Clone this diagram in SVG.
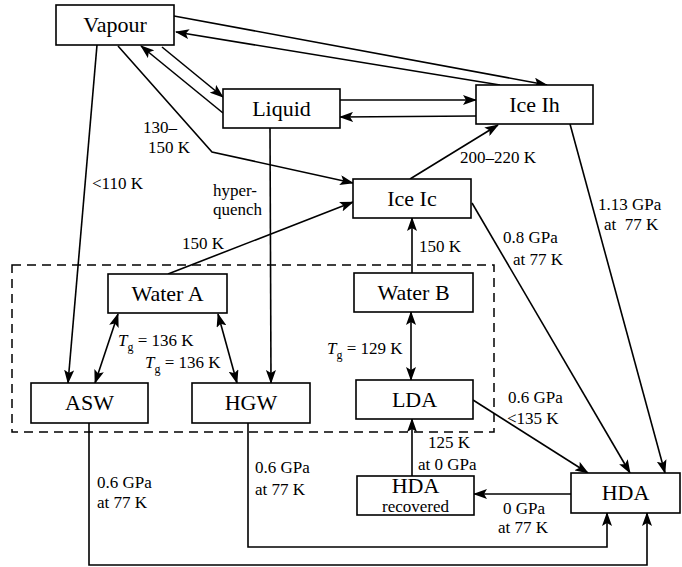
<svg xmlns="http://www.w3.org/2000/svg" width="682" height="567" viewBox="0 0 682 567">
<defs>
<marker id="ah" markerUnits="userSpaceOnUse" markerWidth="14" markerHeight="10" refX="13" refY="5" orient="auto-start-reverse" viewBox="0 0 14 10">
<path d="M0,0 L14,5 L0,10 L3,5 z" fill="#000"/>
</marker>
<style>
.box{fill:#fff;stroke:#000;stroke-width:1.6}
.nl{font-family:"Liberation Serif","Times New Roman",serif;font-size:22px;text-anchor:middle;fill:#000}
.el{font-family:"Liberation Serif","Times New Roman",serif;font-size:17px;fill:#000}
.c{fill:none;stroke:#000;stroke-width:1.6}
.a{marker-end:url(#ah)}
.d{marker-start:url(#ah);marker-end:url(#ah)}
.dash{fill:none;stroke:#000;stroke-width:1.5;stroke-dasharray:9,6}
</style>
</defs>
<rect width="682" height="567" fill="#fff"/>
<rect class="dash" x="12" y="265" width="482" height="167"/>
<g id="connectors">
<path class="c a" d="M174,16 L547,85"/>
<path class="c a" d="M500,85 L176,32"/>
<path class="c a" d="M162,47 L223,97"/>
<path class="c a" d="M223,113 L141,46"/>
<path class="c a" d="M340,100 L476,100"/>
<path class="c a" d="M476,116 L340,117"/>
<path class="c a" d="M118,46 L212,152 L353,183"/>
<path class="c a" d="M97,45 L68,383"/>
<path class="c a" d="M270,128 L271,383"/>
<path class="c a" d="M168,274 L353,202"/>
<path class="c a" d="M410,179 L498,125"/>
<path class="c a" d="M412,273 L412,218"/>
<path class="c d" d="M118,314 L95,383"/>
<path class="c d" d="M218,314 L237,383"/>
<path class="c d" d="M411,312 L411,380"/>
<path class="c a" d="M472,203 L630,473"/>
<path class="c a" d="M570,124 L665,473"/>
<path class="c a" d="M473,400 L588,473"/>
<path class="c a" d="M412,476 L412,419"/>
<path class="c a" d="M571,494 L474,494"/>
<path class="c a" d="M248,423 L248,547 L607,547 L607,513"/>
<path class="c a" d="M89,423 L89,565 L647,565 L647,513"/>
</g>
<g id="labels">
<text class="el" x="143" y="133">130–</text>
<text class="el" x="148" y="153">150 K</text>
<text class="el" x="92" y="189">&lt;110 K</text>
<text class="el" x="213" y="196">hyper-</text>
<text class="el" x="213" y="215">quench</text>
<text class="el" x="182" y="249">150 K</text>
<text class="el" x="460" y="163">200–220 K</text>
<text class="el" x="419" y="252">150 K</text>
<text class="el" x="503" y="243">0.8 GPa</text>
<text class="el" x="513" y="265">at 77 K</text>
<text class="el" x="598" y="210">1.13 GPa</text>
<text class="el" x="604" y="230" xml:space="preserve">at  77 K</text>
<text class="el" x="118" y="346"><tspan font-style="italic">T</tspan><tspan font-size="12" dy="5">g</tspan><tspan dy="-5"> = 136 K</tspan></text>
<text class="el" x="145" y="368"><tspan font-style="italic">T</tspan><tspan font-size="12" dy="5">g</tspan><tspan dy="-5"> = 136 K</tspan></text>
<text class="el" x="327" y="354"><tspan font-style="italic">T</tspan><tspan font-size="12" dy="5">g</tspan><tspan dy="-5"> = 129 K</tspan></text>
<text class="el" x="508" y="403">0.6 GPa</text>
<text class="el" x="507" y="424">&lt;135 K</text>
<text class="el" x="428" y="448">125 K</text>
<text class="el" x="418" y="470">at 0 GPa</text>
<text class="el" x="503" y="514">0 GPa</text>
<text class="el" x="498" y="533">at 77 K</text>
<text class="el" x="255" y="473">0.6 GPa</text>
<text class="el" x="255" y="495">at 77 K</text>
<text class="el" x="97" y="488">0.6 GPa</text>
<text class="el" x="97" y="508">at 77 K</text>
</g>
<g id="vapour"><rect class="box" x="56" y="5" width="118" height="40"/><text class="nl" x="115" y="32">Vapour</text></g>
<g id="liquid"><rect class="box" x="223" y="89" width="117" height="39"/><text class="nl" x="281.5" y="116">Liquid</text></g>
<g id="iceih"><rect class="box" x="476" y="85" width="117" height="39"/><text class="nl" x="534.5" y="112">Ice Ih</text></g>
<g id="iceic"><rect class="box" x="353" y="179" width="118" height="39"/><text class="nl" x="412" y="206">Ice Ic</text></g>
<g id="watera"><rect class="box" x="108" y="274" width="119" height="39"/><text class="nl" x="167.5" y="301">Water A</text></g>
<g id="waterb"><rect class="box" x="354" y="273" width="119" height="39"/><text class="nl" x="413.5" y="300">Water B</text></g>
<g id="asw"><rect class="box" x="31" y="383" width="117" height="40"/><text class="nl" x="89.5" y="410">ASW</text></g>
<g id="hgw"><rect class="box" x="192" y="383" width="118" height="40"/><text class="nl" x="251" y="410">HGW</text></g>
<g id="lda"><rect class="box" x="356" y="380" width="117" height="39"/><text class="nl" x="414.5" y="407">LDA</text></g>
<g id="hdarec"><rect class="box" x="357" y="476" width="117" height="39"/><text class="nl" x="415.5" y="493" font-size="21">HDA</text><text class="el" x="415.5" y="512" text-anchor="middle" font-size="13">recovered</text></g>
<g id="hda"><rect class="box" x="571" y="473" width="109" height="40"/><text class="nl" x="625.5" y="500">HDA</text></g>
</svg>
